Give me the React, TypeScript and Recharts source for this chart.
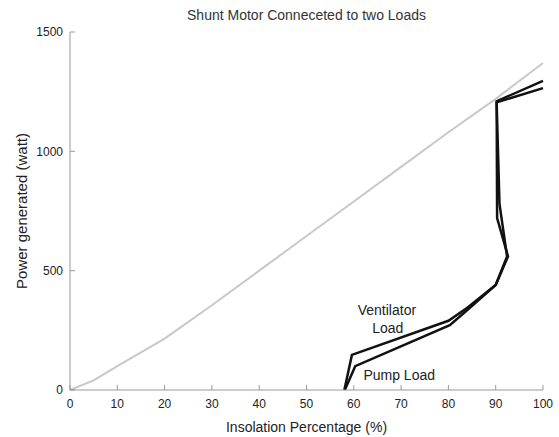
import React from "react";
import {
  LineChart,
  Line,
  XAxis,
  YAxis,
  ReferenceDot,
} from "recharts";

// Maximum available power (grey curve)
const insolation = [0, 5, 10, 20, 30, 40, 50, 60, 70, 80, 90, 100];
const maxPower = [0, 40, 100, 215, 355, 500, 645, 790, 935, 1080, 1220, 1370];

// Ventilator load
const ventX = [58.0, 59.6, 80.0, 84.0, 90.0, 92.6, 90.3, 90.2, 100];
const ventY = [0, 147, 290, 345, 440, 560, 720, 1210, 1295];

// Pump load
const pumpX = [58.1, 60.3, 80.3, 84.0, 90.0, 92.4, 90.8, 90.2, 100];
const pumpY = [0, 100, 272, 335, 440, 560, 780, 1205, 1265];

const xTicks = [0, 10, 20, 30, 40, 50, 60, 70, 80, 90, 100];
const yTicks = [0, 500, 1000, 1500];

const FONT = "'Liberation Sans', Arial, sans-serif";

const maxData = insolation.map((x, i) => ({ x, p: maxPower[i] }));
const ventData = ventX.map((x, i) => ({ x, p: ventY[i] }));
const pumpData = pumpX.map((x, i) => ({ x, p: pumpY[i] }));

const tickStyle = { fontSize: 12, fill: "#222", fontFamily: FONT };
const labelStyle = { fontSize: 14, fill: "#222", fontFamily: FONT };

export default function App() {
  return (
    <div
      style={{
        position: "absolute",
        left: 0,
        top: 0,
        width: 559,
        height: 437,
        background: "#fff",
        fontFamily: FONT,
      }}
    >
      <div
        style={{
          position: "absolute",
          top: 7,
          left: 70,
          width: 473,
          textAlign: "center",
          fontSize: 14,
          color: "#333",
        }}
      >
        Shunt Motor Conneceted to two Loads
      </div>
      <LineChart
        width={559}
        height={437}
        margin={{ top: 32, right: 16, bottom: 0, left: 0 }}
      >
        <XAxis
          dataKey="x"
          type="number"
          domain={[0, 100]}
          ticks={xTicks}
          height={47}
          stroke="#999"
          tick={tickStyle}
          tickSize={-5}
          tickMargin={14}
          allowDuplicatedCategory={false}
          label={{
            value: "Insolation Percentage (%)",
            position: "insideBottom",
            offset: 5,
            style: labelStyle,
          }}
        />
        <XAxis
          xAxisId="top"
          orientation="top"
          type="number"
          domain={[0, 100]}
          ticks={xTicks}
          height={0}
          stroke="#999"
          tick={false}
          tickSize={-5}
        />
        <YAxis
          type="number"
          domain={[0, 1500]}
          ticks={yTicks}
          width={70}
          stroke="#999"
          tick={tickStyle}
          tickSize={-5}
          tickMargin={12}
          label={{
            value: "Power generated (watt)",
            angle: -90,
            position: "center",
            dx: -13,
            style: { ...labelStyle, fontSize: 15 },
          }}
        />
        <YAxis
          yAxisId="right"
          orientation="right"
          type="number"
          domain={[0, 1500]}
          ticks={yTicks}
          width={0}
          stroke="#999"
          tick={false}
          tickSize={-5}
        />
        <Line
          data={maxData}
          dataKey="p"
          type="linear"
          stroke="#c8c8c8"
          strokeWidth={2}
          dot={false}
          isAnimationActive={false}
        />
        <Line
          data={ventData}
          dataKey="p"
          type="linear"
          stroke="#111"
          strokeWidth={2.5}
          dot={false}
          isAnimationActive={false}
        />
        <Line
          data={pumpData}
          dataKey="p"
          type="linear"
          stroke="#111"
          strokeWidth={2.5}
          dot={false}
          isAnimationActive={false}
        />
        <ReferenceDot
          x={67}
          y={335}
          r={1}
          fill="none"
          stroke="none"
          label={{ value: "Ventilator", position: "center", style: labelStyle }}
        />
        <ReferenceDot
          x={67.2}
          y={260}
          r={1}
          fill="none"
          stroke="none"
          label={{ value: "Load", position: "center", style: labelStyle }}
        />
        <ReferenceDot
          x={69.6}
          y={63}
          r={1}
          fill="none"
          stroke="none"
          label={{ value: "Pump Load", position: "center", style: labelStyle }}
        />
      </LineChart>
    </div>
  );
}
